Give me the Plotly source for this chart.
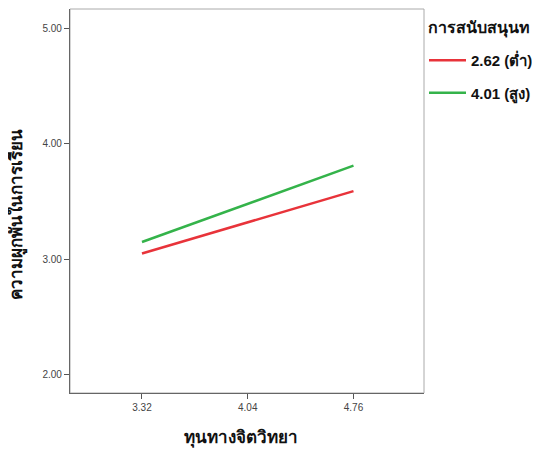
import plotly.graph_objects as go

x_vals = [3.32, 4.04, 4.76]
x_labels = ["3.32", "4.04", "4.76"]
low_support = [3.05, 3.32, 3.59]
high_support = [3.15, 3.48, 3.81]
series_names = ["<b>2.62 (ต่ำ)</b>", "<b>4.01 (สูง)</b>"]
legend_title = "การสนับสนุนท"
x_title = "ทุนทางจิตวิทยา"
y_title = "ความผูกพันในการเรียน"
y_ticks = [2.0, 3.0, 4.0, 5.0]
y_labels = ["2.00", "3.00", "4.00", "5.00"]

fig = go.Figure()
fig.add_trace(go.Scatter(x=x_vals, y=low_support, mode="lines", name=series_names[0],
                         line=dict(color="#e8333a", width=2.5), legendgroup="a"))
fig.add_trace(go.Scatter(x=x_vals, y=high_support, mode="lines", name=series_names[1],
                         line=dict(color="#34b34a", width=2.5), legendgroup="b"))

fig.update_layout(
    width=532, height=442,
    margin=dict(l=62, r=116, t=1, b=57, autoexpand=False),
    plot_bgcolor="white", paper_bgcolor="white",
    font=dict(family="Arial, Liberation Sans, sans-serif", color="#222"),
    showlegend=True,
    legend=dict(x=1.0, xanchor="left", y=0.909, yanchor="top",
                font=dict(size=15, color="#111"), tracegroupgap=10, itemwidth=37,
                bgcolor="rgba(0,0,0,0)"),
    xaxis=dict(range=[2.83, 5.24], tickvals=x_vals, ticktext=x_labels,
               ticks="outside", ticklen=5, tickcolor="#555", tickfont=dict(size=10, color="#444"),
               showgrid=False, zeroline=False, showline=True, linecolor="#666", linewidth=1.2,
               automargin=False),
    yaxis=dict(range=[1.844, 5.165], tickvals=y_ticks, ticktext=y_labels,
               ticks="outside", ticklen=5, tickcolor="#555", tickfont=dict(size=10, color="#444"),
               showgrid=False, zeroline=False, showline=True, linecolor="#666", linewidth=1.2,
               automargin=False),
    shapes=[dict(type="rect", xref="paper", yref="paper", x0=0, y0=0, x1=1, y1=1,
                 line=dict(color="#aaa", width=1), layer="below")],
    annotations=[
        dict(text="<b>" + legend_title + "</b>", xref="paper", yref="paper",
             x=1.006, y=0.95, xanchor="left", yanchor="middle", showarrow=False,
             font=dict(size=16, color="#111")),
        dict(text="<b>" + x_title + "</b>", xref="paper", yref="paper",
             x=0.483, y=-0.117, xanchor="center", yanchor="middle", showarrow=False,
             font=dict(size=17, color="#111")),
        dict(text="<b>" + y_title + "</b>", xref="paper", yref="paper",
             x=-0.15, y=0.466, xanchor="center", yanchor="middle", showarrow=False,
             textangle=-90, font=dict(size=17, color="#111")),
    ],
)

fig.write_html("out.html")
